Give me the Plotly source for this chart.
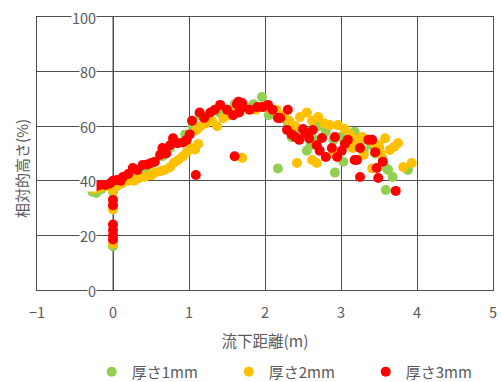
import plotly.graph_objects as go

# 厚さ1mm
g_x = [-0.27, -0.22, -0.15, 0.0, 0.0, 0.0, 0.05, 0.15, 0.25, 0.35,
       0.45, 0.55, 0.65, 0.75, 0.85, 0.95, 1.05, 1.14, 1.25, 1.40,
       1.50, 1.60, 1.75, 1.85, 1.96, 2.05, 2.17, 2.20, 2.30, 2.40,
       2.50, 2.55, 2.60, 2.70, 2.80, 2.90, 2.92, 3.00, 3.03, 3.10,
       3.18, 3.25, 3.30, 3.40, 3.50, 3.55, 3.60, 3.62, 3.68, 3.59,
       3.88, 3.45, 2.35, 2.65]
g_y = [36.0, 35.5, 37.0, 36.0, 30.0, 16.0, 38.0, 40.0, 42.0, 43.5,
       45.0, 47.0, 49.0, 52.0, 54.0, 57.0, 60.0, 64.0, 64.0, 65.0,
       66.0, 68.0, 67.0, 68.0, 70.7, 64.0, 44.5, 63.0, 61.0, 59.0,
       57.0, 51.0, 53.0, 60.0, 58.0, 55.0, 43.0, 56.0, 47.0, 55.0,
       58.0, 54.0, 51.0, 53.0, 52.0, 48.0, 44.5, 44.0, 41.4, 36.6,
       44.0, 50.0, 56.0, 55.0]

# 厚さ2mm
o_x = [-0.25, -0.18, -0.10, 0.0, 0.0, 0.0, 0.05, 0.12, 0.20, 0.28,
       0.35, 0.42, 0.50, 0.55, 0.62, 0.68, 0.75, 0.80, 0.86, 0.92,
       0.97, 1.02, 1.08, 1.10, 1.15, 1.22, 1.30, 1.37, 1.45, 1.52,
       1.60, 1.70, 1.78, 1.88, 1.95, 2.05, 2.15, 2.25, 2.32, 2.40,
       2.46, 2.55, 2.62, 2.70, 2.78, 2.85, 2.96, 3.05, 3.12, 3.20,
       3.28, 3.35, 3.42, 3.50, 3.58, 3.64, 3.70, 3.75, 3.82, 3.93,
       3.41, 2.42, 2.62, 2.68, 1.70, 2.90, 3.15, 3.52, 3.30, 2.52,
       1.12]
o_y = [37.0, 37.5, 38.0, 36.5, 29.5, 17.0, 38.5, 39.0, 40.0, 40.0,
       41.0, 41.5, 42.0, 43.0, 43.5, 44.0, 45.0, 46.5, 47.6, 49.0,
       50.5, 52.0, 51.5, 58.6, 60.0, 61.0, 62.0, 60.0, 63.0, 64.0,
       65.0, 67.0, 66.0, 66.0, 67.0, 66.5, 66.0, 64.0, 62.0, 60.0,
       63.4, 65.0, 62.0, 63.4, 61.0, 60.4, 60.4, 59.0, 57.0, 55.0,
       56.0, 55.0, 54.0, 53.0, 55.6, 51.3, 52.5, 53.8, 45.0, 46.5,
       44.5, 46.5, 47.6, 46.5, 48.4, 50.0, 52.0, 50.0, 49.5, 58.0,
       53.5]

# 厚さ3mm
r_x = [-0.22, -0.17, -0.10, -0.04, 0.0, 0.0, 0.0, 0.0, 0.0, 0.0,
       0.0, 0.05, 0.10, 0.13, 0.20, 0.26, 0.32, 0.39, 0.45, 0.50,
       0.55, 0.62, 0.65, 0.70, 0.75, 0.79, 0.85, 0.92, 0.97, 1.01,
       1.04, 1.09, 1.14, 1.20, 1.28, 1.34, 1.41, 1.50, 1.58, 1.63,
       1.66, 1.71, 1.80, 1.90, 1.97, 2.04, 2.10, 1.60, 2.17, 2.20,
       2.29, 2.30, 2.35, 2.40, 2.45, 2.53, 2.58, 2.63, 2.72, 2.75,
       2.80, 2.88, 2.92, 2.95, 3.01, 3.09, 3.18, 3.21, 3.25, 3.25,
       3.36, 3.41, 3.45, 3.47, 3.49, 3.55, 3.72, 2.50, 2.68, 3.05,
       1.65, 1.70]
r_y = [38.0, 38.5, 38.5, 39.0, 40.0, 33.0, 31.0, 24.0, 22.0, 20.0,
       18.5, 40.3, 40.0, 41.4, 42.5, 44.7, 44.0, 45.8, 46.0, 46.5,
       47.0, 49.5, 52.0, 50.0, 53.0, 55.6, 53.8, 54.0, 55.0, 57.0,
       62.0, 42.1, 65.0, 63.0, 65.0, 66.0, 67.8, 66.0, 64.0, 68.0,
       65.0, 67.0, 66.0, 67.0, 67.0, 67.8, 66.0, 49.0, 63.0, 63.0,
       58.6, 66.0, 57.0, 56.0, 55.0, 57.5, 55.5, 58.6, 51.0, 55.7,
       48.7, 52.0, 56.0, 48.7, 51.0, 55.0, 47.6, 47.6, 52.0, 41.4,
       55.0, 55.0, 50.5, 44.7, 41.0, 47.0, 36.3, 59.0, 53.0, 53.5,
       69.0, 68.5]

y_ticks = [0, 20, 40, 60, 80, 100]
x_ticks = [-1, 0, 1, 2, 3, 4, 5]

FONT = "Noto Sans CJK JP"
TXT = "#595959"
GRID = "#4f4f4f"

fig = go.Figure()
for name, xs, ys, col in [("厚さ1mm", g_x, g_y, "#92D050"),
                          ("厚さ2mm", o_x, o_y, "#FFC000"),
                          ("厚さ3mm", r_x, r_y, "#FF0000")]:
    fig.add_trace(go.Scatter(x=xs, y=ys, mode="markers", name=name,
                             marker=dict(color=col, size=10, line=dict(width=0))))

for t in y_ticks:
    fig.add_annotation(x=0, y=t, xref="x", yref="y", text=str(t), showarrow=False,
                       xanchor="right", yanchor="middle", xshift=-16,
                       bgcolor="white", borderpad=0,
                       font=dict(family=FONT, size=14.5, color=TXT))

fig.add_annotation(x=-0.033, y=0.447, xref="paper", yref="paper", text="相対的高さ(%)",
                   textangle=-90, showarrow=False, xanchor="center", yanchor="middle",
                   font=dict(family=FONT, size=15, color=TXT))

fig.update_xaxes(range=[-1, 5], tickvals=x_ticks, showgrid=True, gridcolor=GRID, gridwidth=1,
                 showline=True, linecolor=GRID, mirror=True, zeroline=False,
                 tickfont=dict(family=FONT, size=14.5, color=TXT),
                 title=dict(text="流下距離(m)", font=dict(family=FONT, size=15.5, color=TXT), standoff=14),
                 ticks="", ticklabelstandoff=10)
fig.update_yaxes(range=[0, 100], tickvals=y_ticks, showticklabels=False, showgrid=True,
                 gridcolor=GRID, gridwidth=1, showline=True, linecolor=GRID, mirror=True,
                 zeroline=True, zerolinecolor=GRID, zerolinewidth=1)

fig.update_layout(
    width=502, height=382, margin=dict(l=37, r=9, t=17, b=92, autoexpand=False),
    plot_bgcolor="white", paper_bgcolor="white",
    showlegend=True,
    legend=dict(orientation="h", x=0.12, xanchor="left", y=-0.3, yanchor="middle",
                font=dict(family=FONT, size=15, color=TXT), entrywidth=92,
                itemwidth=30, bgcolor="rgba(0,0,0,0)"),
    font=dict(family=FONT, color=TXT),
)
fig.add_shape(type="line", x0=0, x1=0, y0=0, y1=100, xref="x", yref="y",
              line=dict(color=GRID, width=1), layer="below")

fig.write_html("out.html")
